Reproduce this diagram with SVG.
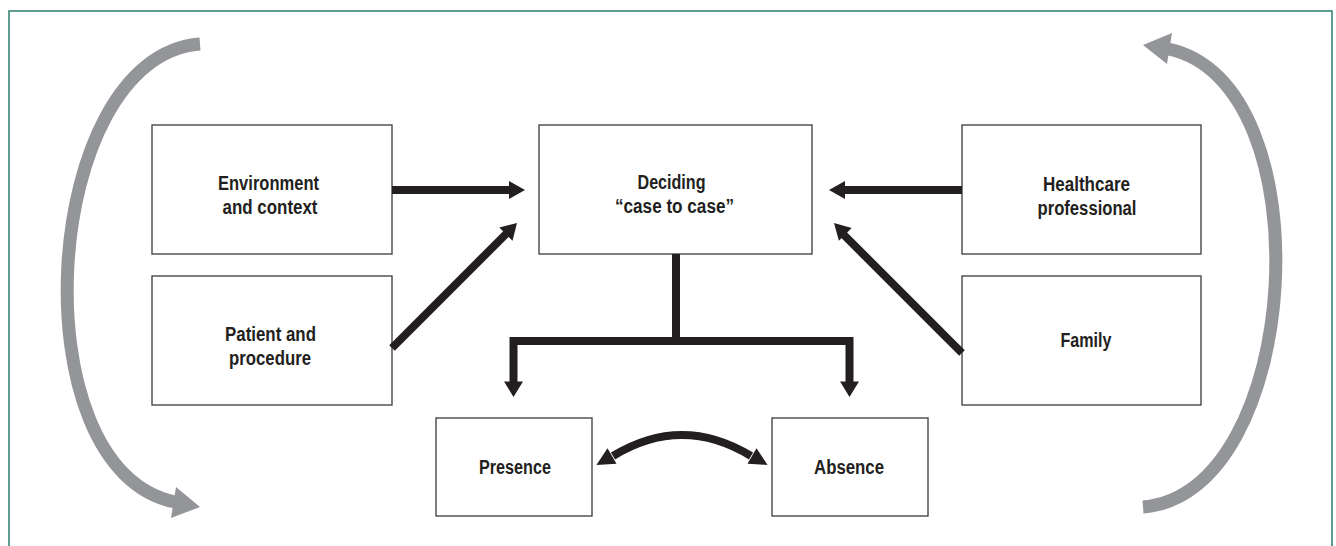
<svg xmlns="http://www.w3.org/2000/svg" width="1336" height="546" viewBox="0 0 1336 546">
<style>
.box{fill:#fff;stroke:#3a3a3a;stroke-width:1.3}
.t{font-family:"Liberation Sans",Arial,sans-serif;font-weight:bold;font-size:20px;fill:#231f20;text-anchor:middle}
.ln{fill:none;stroke:#231f20;stroke-width:8}
.hd{fill:#231f20;stroke:none}
.gr{fill:none;stroke:#939598;stroke-width:13}
.gh{fill:#939598;stroke:none}
</style>
<rect width="1336" height="546" fill="#fff"/>
<path d="M9,546 V11 H1332 V546" fill="none" stroke="#2b7c6e" stroke-width="1.5"/>
<g id="cycle">
<path class="gr" d="M200,44 C40,56 16,470 175,502"/>
<polygon class="gh" points="200,507 176,487 171,518"/>
<path class="gr" d="M1143,507 C1303,495 1327,81 1168,49"/>
<polygon class="gh" points="1143,45 1167,64 1172,33"/>
</g>
<g id="env"><rect class="box" x="152" y="125" width="240" height="129"/>
<text class="t" x="268.5" y="190" textLength="101" lengthAdjust="spacingAndGlyphs">Environment</text>
<text class="t" x="270" y="214" textLength="95" lengthAdjust="spacingAndGlyphs">and context</text></g>
<g id="patient"><rect class="box" x="152" y="276" width="240" height="129"/>
<text class="t" x="270.5" y="341" textLength="91" lengthAdjust="spacingAndGlyphs">Patient and</text>
<text class="t" x="270" y="365" textLength="82" lengthAdjust="spacingAndGlyphs">procedure</text></g>
<g id="deciding"><rect class="box" x="539" y="125" width="273" height="129"/>
<text class="t" x="671.5" y="189" textLength="68" lengthAdjust="spacingAndGlyphs">Deciding</text>
<text class="t" x="674.5" y="213" textLength="119" lengthAdjust="spacingAndGlyphs">“case to case”</text></g>
<g id="healthcare"><rect class="box" x="962" y="125" width="239" height="129"/>
<text class="t" x="1086.5" y="191" textLength="87" lengthAdjust="spacingAndGlyphs">Healthcare</text>
<text class="t" x="1087" y="215" textLength="99" lengthAdjust="spacingAndGlyphs">professional</text></g>
<g id="family"><rect class="box" x="962" y="276" width="239" height="129"/>
<text class="t" x="1086" y="347" textLength="51" lengthAdjust="spacingAndGlyphs">Family</text></g>
<g id="presence"><rect class="box" x="436" y="418" width="156" height="98"/>
<text class="t" x="515" y="474" textLength="72" lengthAdjust="spacingAndGlyphs">Presence</text></g>
<g id="absence"><rect class="box" x="772" y="418" width="156" height="98"/>
<text class="t" x="849" y="474" textLength="70" lengthAdjust="spacingAndGlyphs">Absence</text></g>
<g id="connectors">
<path class="ln" d="M392,190 H510"/>
<polygon class="hd" points="525,190 509,181 509,199"/>
<path class="ln" d="M392,348 L507,233"/>
<polygon class="hd" points="517,223 512.5,240.7 499.3,227.5"/>
<path class="ln" d="M962,190 H844"/>
<polygon class="hd" points="829,190 845,181 845,199"/>
<path class="ln" d="M962,353 L844,235"/>
<polygon class="hd" points="834,223 851.7,227.9 838.9,240.7"/>
<path class="ln" d="M676,254 V341" stroke-linejoin="miter"/>
<path class="ln" d="M513.5,383 V341 H849.5 V383" stroke-linejoin="miter"/>
<polygon class="hd" points="513.5,397 504,381.5 523,381.5"/>
<polygon class="hd" points="849.5,397 840,381.5 859,381.5"/>
<path class="ln" stroke-width="7" d="M613,456 Q682,414 751,456"/>
<polygon class="hd" points="596.4,464.9 616.5,463.8 607.5,448.2"/>
<polygon class="hd" points="767.6,464.9 747.5,463.8 756.5,448.2"/>
</g>
</svg>
